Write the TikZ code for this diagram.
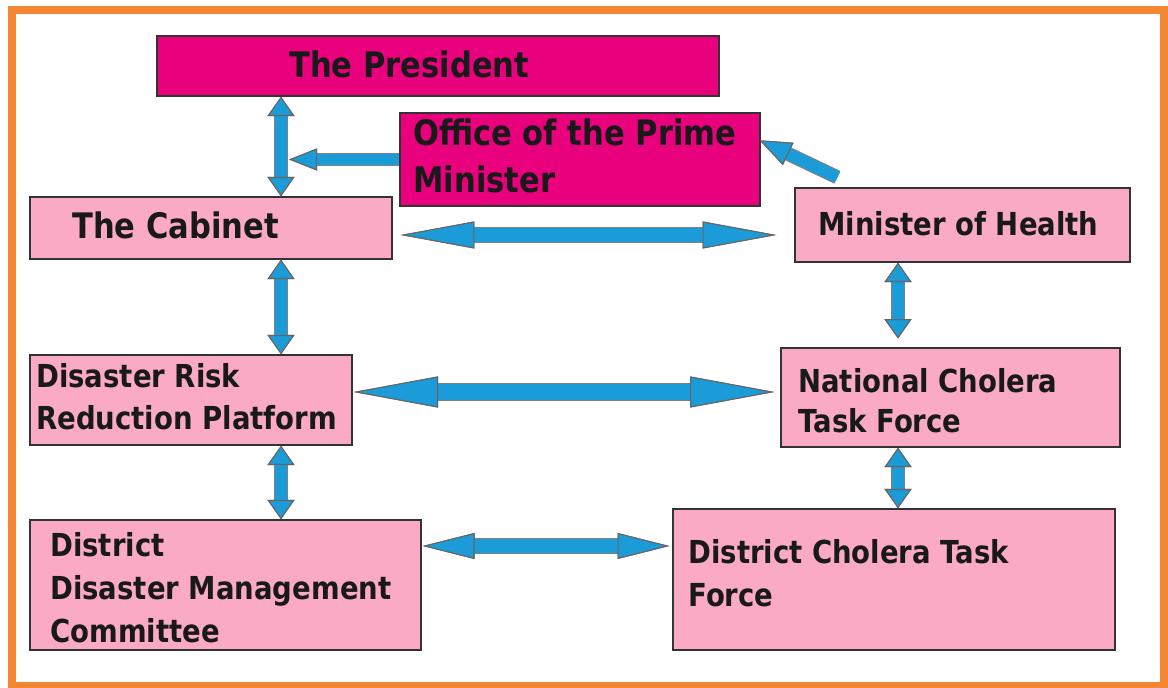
\documentclass[tikz,border=0pt]{standalone}
\usepackage{fontspec}
\setmainfont{DejaVu Sans}[FakeStretch=0.87]
\usetikzlibrary{arrows.meta,calc}

\definecolor{framecol}{RGB}{245,134,52}
\definecolor{toppink}{RGB}{232,0,125}
\definecolor{boxpink}{RGB}{251,170,198}
\definecolor{linkblue}{RGB}{27,155,215}

\tikzset{
  box/.style={draw=black!80, line width=0.8pt, inner sep=0pt, fill=boxpink},
  topbox/.style={box, fill=toppink},
  lbl/.style={anchor=base west, inner sep=0pt, align=left, text=black!90,
    font=\bfseries\fontsize{18}{24.4}\selectfont},
  biglbl/.style={lbl, font=\bfseries\fontsize{20}{27.2}\selectfont},
  bluetip/.tip={Triangle[line width=0.6pt, color=black!60, fill=linkblue]},
  shaft/.style={draw=linkblue, line width=#1, preaction={draw=black!50, line width=#1+1.2pt}},
  link/.style n args={3}{shaft=#3, {bluetip[length=#1,width=#2]}-{bluetip[length=#1,width=#2]}},
  pointer/.style n args={3}{shaft=#3, -{bluetip[length=#1,width=#2]}},
  vlink/.style={link={11pt}{15.3pt}{6.8pt}}
}

\begin{document}
\begin{tikzpicture}[x=0.02cm, y=-0.02cm]
    \path[fill=white, use as bounding box] (0,0) rectangle (1168,688);
    \draw[framecol, line width=5.1pt] (12,10) rectangle (1164,686);

    % boxes
    \node[topbox, minimum width=11.24cm, minimum height=1.2cm] (pres) at (438,66) {};
    \node[topbox, minimum width=7.2cm, minimum height=1.86cm] (opm) at (580,159.5) {};
    \node[box, minimum width=7.24cm, minimum height=1.24cm] (cab) at (211,228) {};
    \node[box, minimum width=6.7cm, minimum height=1.48cm] (moh) at (962.5,225) {};
    \node[box, minimum width=6.44cm, minimum height=1.8cm] (drrp) at (191,400) {};
    \node[box, minimum width=6.78cm, minimum height=1.98cm] (nctf) at (950.5,397.5) {};
    \node[box, minimum width=7.82cm, minimum height=2.6cm] (ddmc) at (225.5,585) {};
    \node[box, minimum width=8.84cm, minimum height=2.82cm] (dctf) at (894,579.5) {};

    % texts
    \node[biglbl] (prestxt) at (289,78) {The President};
    \node[biglbl] (opmtxt) at (413,193) {Office of the Prime\\Minister};
    \node[biglbl] (cabtxt) at (72,239) {The Cabinet};
    \node[lbl] (mohtxt) at (818,236) {Minister of Health};
    \node[lbl] (drrptxt) at (36,430) {Disaster Risk\\Reduction Platform};
    \node[lbl, font=\bfseries\fontsize{18}{23.2}\selectfont] (nctftxt) at (798,433) {National Cholera\\Task Force};
    \node[lbl] (ddmctxt) at (50,642) {District\\Disaster Management\\Committee};
    \node[lbl] (dctftxt) at (688,606) {District Cholera Task\\Force};

    % links
    \coordinate (lcol) at (281,0); \coordinate (rcol) at (898,0);
    \coordinate (pcjoin) at (289,159.5);
    \draw[vlink] (pres.south -| lcol) -- (cab.north -| lcol);
    \draw[vlink] (cab.south -| lcol) -- (drrp.north -| lcol);
    \draw[vlink] (drrp.south -| lcol) -- (ddmc.north -| lcol);
    \draw[vlink, shorten >=5pt] (moh.south -| rcol) -- (nctf.north -| rcol);
    \draw[vlink] (nctf.south -| rcol) -- (dctf.north -| rcol);
    \draw[link={42pt}{15.3pt}{8pt}] ([shift={(8,7)}]cab.east) -- ([shift={(-18,10)}]moh.west);
    \draw[link={48pt}{17.6pt}{9pt}] ([shift={(1,-8)}]drrp.east) -- ([shift={(-6,-5.5)}]nctf.west);
    \draw[link={29.5pt}{14.7pt}{8pt}] ([shift={(1,-39)}]ddmc.east) -- ([shift={(-3,-33.5)}]dctf.west);
    \draw[pointer={16pt}{12.5pt}{6.2pt}] (opm.west) -- (pcjoin);
    \draw[pointer={18pt}{14pt}{6.8pt}] ([shift={(43,-10)}]moh.north west) -- ([shift={(-1,28)}]opm.north east);
\end{tikzpicture}
\end{document}
